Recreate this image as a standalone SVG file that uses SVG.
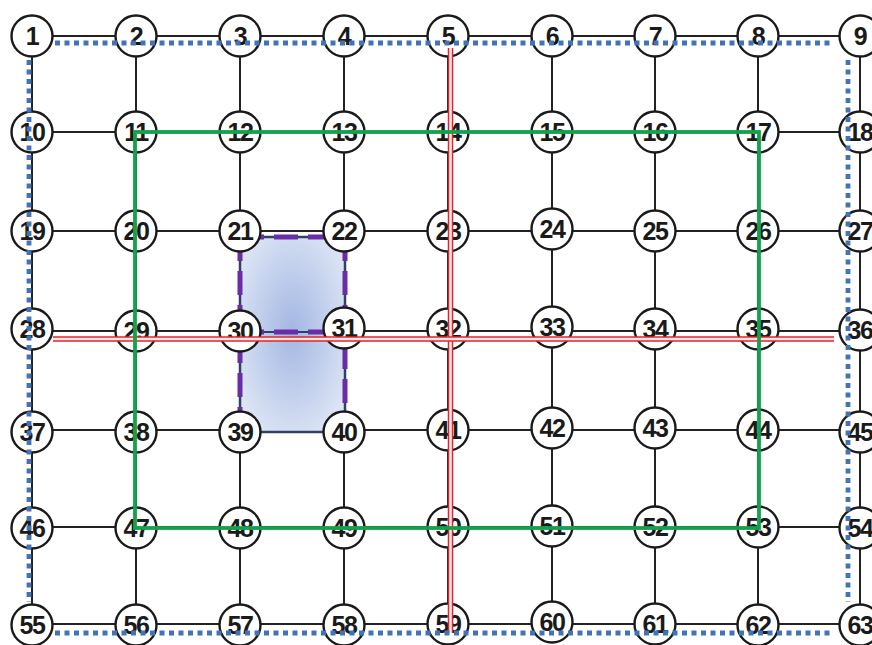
<svg xmlns="http://www.w3.org/2000/svg" width="872" height="645" viewBox="0 0 872 645">
<style>
.grid{stroke:#222;stroke-width:2;fill:none}
.node circle{fill:#fff;stroke:#1a1a1a;stroke-width:2.4}
.node text{font-family:"Liberation Sans",Arial,sans-serif;font-weight:bold;font-size:25px;letter-spacing:-1.5px;fill:#1a1a1a;text-anchor:middle}
.purple{stroke:#6a2da6;stroke-width:5;fill:none;stroke-dasharray:24 10}
.red-o{stroke:#e0262c;stroke-width:5.5;fill:none}
.red-i{stroke:#fbe4e4;stroke-width:2.6;fill:none}
.green{stroke:#12a14c;stroke-width:3.8;fill:none}
.blue{stroke:#4273b6;stroke-width:4.8;fill:none;stroke-dasharray:5 4.5}
</style>
<defs>
<radialGradient id="fillg" cx="50%" cy="48%" r="60%">
<stop offset="0" stop-color="#a3b7e3"/>
<stop offset="1" stop-color="#dde5f5"/>
</radialGradient>
</defs>
<rect width="872" height="645" fill="#fff"/>
<g id="connectors">
<g class="grid">
<line x1="32" y1="36" x2="860" y2="36"/>
<line x1="32" y1="132" x2="860" y2="132"/>
<line x1="32" y1="231" x2="860" y2="231"/>
<line x1="32" y1="331" x2="860" y2="331"/>
<line x1="32" y1="430" x2="860" y2="430"/>
<line x1="32" y1="527" x2="860" y2="527"/>
<line x1="32" y1="624" x2="860" y2="624"/>
<line x1="32" y1="36" x2="32" y2="624"/>
<line x1="136" y1="36" x2="136" y2="624"/>
<line x1="240" y1="36" x2="240" y2="624"/>
<line x1="344" y1="36" x2="344" y2="624"/>
<line x1="448" y1="36" x2="448" y2="624"/>
<line x1="552" y1="36" x2="552" y2="624"/>
<line x1="655" y1="36" x2="655" y2="624"/>
<line x1="758" y1="36" x2="758" y2="624"/>
<line x1="860" y1="36" x2="860" y2="624"/>
</g>
<rect x="240" y="237" width="105" height="195" fill="url(#fillg)" stroke="#2f4266" stroke-width="2.5"/>
<line x1="240" y1="332" x2="345" y2="332" stroke="#2f4266" stroke-width="2"/>
<g class="purple">
<line x1="240" y1="237" x2="345" y2="237"/>
<line x1="240" y1="237" x2="240" y2="432"/>
<line x1="345" y1="237" x2="345" y2="332"/>
<line x1="240" y1="332" x2="345" y2="332"/>
<line x1="345" y1="345" x2="345" y2="410"/>
</g>
</g>
<g id="nodes">
<g id="n1" class="node"><circle cx="32" cy="36" r="20.5"/><text x="32" y="45">1</text></g>
<g id="n2" class="node"><circle cx="136" cy="36" r="20.5"/><text x="136" y="45">2</text></g>
<g id="n3" class="node"><circle cx="240" cy="36" r="20.5"/><text x="240" y="45">3</text></g>
<g id="n4" class="node"><circle cx="344" cy="36" r="20.5"/><text x="344" y="45">4</text></g>
<g id="n5" class="node"><circle cx="448" cy="36" r="20.5"/><text x="448" y="45">5</text></g>
<g id="n6" class="node"><circle cx="552" cy="36" r="20.5"/><text x="552" y="45">6</text></g>
<g id="n7" class="node"><circle cx="655" cy="36" r="20.5"/><text x="655" y="45">7</text></g>
<g id="n8" class="node"><circle cx="758" cy="36" r="20.5"/><text x="758" y="45">8</text></g>
<g id="n9" class="node"><circle cx="860" cy="36" r="20.5"/><text x="860" y="45">9</text></g>
<g id="n10" class="node"><circle cx="32" cy="132" r="20.5"/><text x="32" y="141">10</text></g>
<g id="n11" class="node"><circle cx="136" cy="132" r="20.5"/><text x="136" y="141">11</text></g>
<g id="n12" class="node"><circle cx="240" cy="132" r="20.5"/><text x="240" y="141">12</text></g>
<g id="n13" class="node"><circle cx="344" cy="132" r="20.5"/><text x="344" y="141">13</text></g>
<g id="n14" class="node"><circle cx="448" cy="132" r="20.5"/><text x="448" y="141">14</text></g>
<g id="n15" class="node"><circle cx="552" cy="132" r="20.5"/><text x="552" y="141">15</text></g>
<g id="n16" class="node"><circle cx="655" cy="132" r="20.5"/><text x="655" y="141">16</text></g>
<g id="n17" class="node"><circle cx="758" cy="132" r="20.5"/><text x="758" y="141">17</text></g>
<g id="n18" class="node"><circle cx="860" cy="132" r="20.5"/><text x="860" y="141">18</text></g>
<g id="n19" class="node"><circle cx="32" cy="231" r="20.5"/><text x="32" y="240">19</text></g>
<g id="n20" class="node"><circle cx="136" cy="231" r="20.5"/><text x="136" y="240">20</text></g>
<g id="n21" class="node"><circle cx="240" cy="231" r="20.5"/><text x="240" y="240">21</text></g>
<g id="n22" class="node"><circle cx="344" cy="231" r="20.5"/><text x="344" y="240">22</text></g>
<g id="n23" class="node"><circle cx="448" cy="231" r="20.5"/><text x="448" y="240">23</text></g>
<g id="n24" class="node"><circle cx="552" cy="229" r="20.5"/><text x="552" y="238">24</text></g>
<g id="n25" class="node"><circle cx="655" cy="231" r="20.5"/><text x="655" y="240">25</text></g>
<g id="n26" class="node"><circle cx="758" cy="231" r="20.5"/><text x="758" y="240">26</text></g>
<g id="n27" class="node"><circle cx="860" cy="231" r="20.5"/><text x="860" y="240">27</text></g>
<g id="n28" class="node"><circle cx="32" cy="329" r="20.5"/><text x="32" y="338">28</text></g>
<g id="n29" class="node"><circle cx="136" cy="331" r="20.5"/><text x="136" y="340">29</text></g>
<g id="n30" class="node"><circle cx="240" cy="331" r="20.5"/><text x="240" y="340">30</text></g>
<g id="n31" class="node"><circle cx="344" cy="328" r="20.5"/><text x="344" y="337">31</text></g>
<g id="n32" class="node"><circle cx="448" cy="329" r="20.5"/><text x="448" y="338">32</text></g>
<g id="n33" class="node"><circle cx="552" cy="327" r="20.5"/><text x="552" y="336">33</text></g>
<g id="n34" class="node"><circle cx="655" cy="329" r="20.5"/><text x="655" y="338">34</text></g>
<g id="n35" class="node"><circle cx="758" cy="329" r="20.5"/><text x="758" y="338">35</text></g>
<g id="n36" class="node"><circle cx="860" cy="330" r="20.5"/><text x="860" y="339">36</text></g>
<g id="n37" class="node"><circle cx="32" cy="432" r="20.5"/><text x="32" y="441">37</text></g>
<g id="n38" class="node"><circle cx="136" cy="432" r="20.5"/><text x="136" y="441">38</text></g>
<g id="n39" class="node"><circle cx="240" cy="432" r="20.5"/><text x="240" y="441">39</text></g>
<g id="n40" class="node"><circle cx="344" cy="432" r="20.5"/><text x="344" y="441">40</text></g>
<g id="n41" class="node"><circle cx="448" cy="430" r="20.5"/><text x="448" y="439">41</text></g>
<g id="n42" class="node"><circle cx="552" cy="428" r="20.5"/><text x="552" y="437">42</text></g>
<g id="n43" class="node"><circle cx="655" cy="428" r="20.5"/><text x="655" y="437">43</text></g>
<g id="n44" class="node"><circle cx="758" cy="430" r="20.5"/><text x="758" y="439">44</text></g>
<g id="n45" class="node"><circle cx="860" cy="432" r="20.5"/><text x="860" y="441">45</text></g>
<g id="n46" class="node"><circle cx="32" cy="528" r="20.5"/><text x="32" y="537">46</text></g>
<g id="n47" class="node"><circle cx="136" cy="528" r="20.5"/><text x="136" y="537">47</text></g>
<g id="n48" class="node"><circle cx="240" cy="528" r="20.5"/><text x="240" y="537">48</text></g>
<g id="n49" class="node"><circle cx="344" cy="528" r="20.5"/><text x="344" y="537">49</text></g>
<g id="n50" class="node"><circle cx="448" cy="527" r="20.5"/><text x="448" y="536">50</text></g>
<g id="n51" class="node"><circle cx="552" cy="526" r="20.5"/><text x="552" y="535">51</text></g>
<g id="n52" class="node"><circle cx="655" cy="527" r="20.5"/><text x="655" y="536">52</text></g>
<g id="n53" class="node"><circle cx="758" cy="527" r="20.5"/><text x="758" y="536">53</text></g>
<g id="n54" class="node"><circle cx="860" cy="528" r="20.5"/><text x="860" y="537">54</text></g>
<g id="n55" class="node"><circle cx="32" cy="625" r="20.5"/><text x="32" y="634">55</text></g>
<g id="n56" class="node"><circle cx="136" cy="625" r="20.5"/><text x="136" y="634">56</text></g>
<g id="n57" class="node"><circle cx="240" cy="625" r="20.5"/><text x="240" y="634">57</text></g>
<g id="n58" class="node"><circle cx="344" cy="625" r="20.5"/><text x="344" y="634">58</text></g>
<g id="n59" class="node"><circle cx="448" cy="624" r="20.5"/><text x="448" y="633">59</text></g>
<g id="n60" class="node"><circle cx="552" cy="622" r="20.5"/><text x="552" y="631">60</text></g>
<g id="n61" class="node"><circle cx="655" cy="624" r="20.5"/><text x="655" y="633">61</text></g>
<g id="n62" class="node"><circle cx="758" cy="625" r="20.5"/><text x="758" y="634">62</text></g>
<g id="n63" class="node"><circle cx="860" cy="625" r="20.5"/><text x="860" y="634">63</text></g>
</g>
<g id="overlays">
<line class="red-o" x1="450.5" y1="48" x2="450.5" y2="633"/>
<line class="red-i" x1="450.5" y1="48" x2="450.5" y2="633"/>
<line class="red-o" x1="53" y1="339" x2="834" y2="339"/>
<line class="red-i" x1="53" y1="339" x2="834" y2="339"/>
<rect class="green" x="135" y="132" width="624" height="396"/>
<line class="blue" x1="55" y1="43" x2="832" y2="43"/>
<line class="blue" x1="55" y1="633" x2="832" y2="633"/>
<line class="blue" x1="29" y1="60" x2="29" y2="602"/>
<line class="blue" x1="848" y1="60" x2="848" y2="602"/>
</g>
</svg>
